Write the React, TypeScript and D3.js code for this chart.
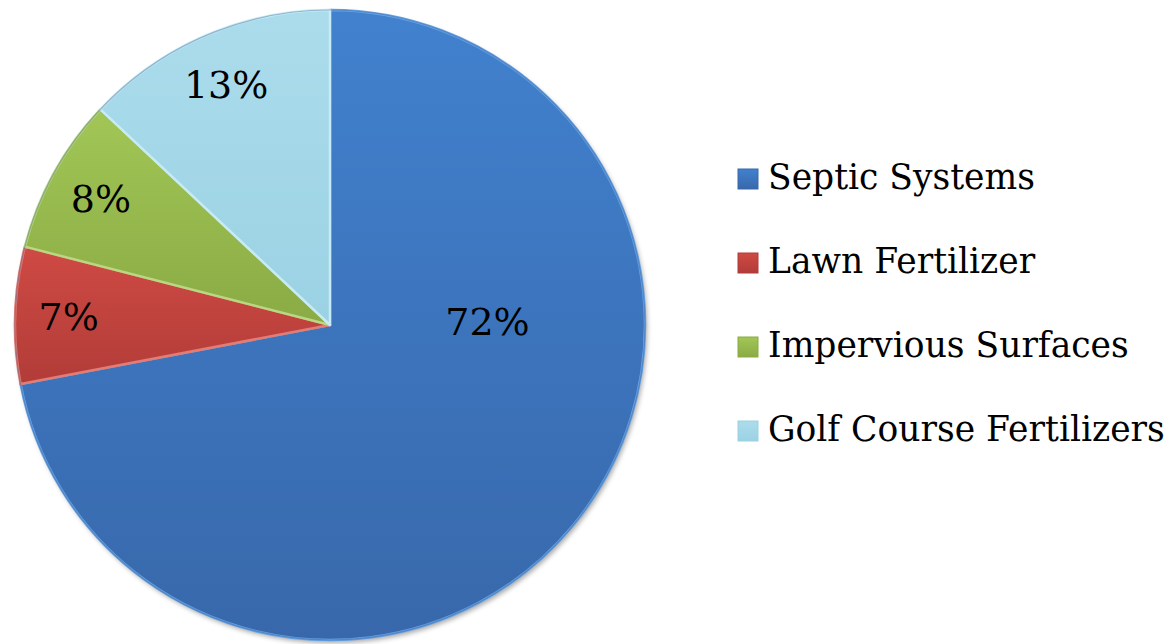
import React from "react";
import * as d3 from "d3";

const categories = ["Septic Systems", "Lawn Fertilizer", "Impervious Surfaces", "Golf Course Fertilizers"];
const values = [72, 7, 8, 13];
const labels = ["72%", "7%", "8%", "13%"];
const colorTop = ["#4181ce", "#cf4a44", "#a2c656", "#abdcec"];
const colorBottom = ["#3868ab", "#b23c38", "#8aab45", "#9bd2e3"];
const edgeColors = ["#68a4e6", "#e27c74", "#bad882", "#c6ebf6"];

const W = 1175, H = 644;
const cx = 330, cy = 325, R = 315;

export default function App() {
  const pie = d3.pie<number>().sort(null).value((d) => d)(values);
  const arc = d3.arc<d3.PieArcDatum<number>>().innerRadius(0).outerRadius(R);
  const font = "DejaVu Serif";
  const labelPos = (p: d3.PieArcDatum<number>) => {
    const mid = (p.startAngle + p.endAngle) / 2;
    const big = p.endAngle - p.startAngle > Math.PI;
    const a = big ? Math.PI / 2 - 0.02 : mid;
    const r = big ? R * 0.5 : R * 0.83;
    return [Math.sin(a) * r, -Math.cos(a) * r];
  };
  return (
    <div style={{ position: "absolute", left: 0, top: 0 }}>
      <svg width={W} height={H} style={{ display: "block", background: "#fff" }}>
        <defs>
          {values.map((_, i) => (
            <linearGradient key={i} id={`g${i}`} x1="0" y1="0" x2="0" y2="1" gradientUnits="objectBoundingBox">
              <stop offset="0" stopColor={colorTop[i]} />
              <stop offset="1" stopColor={colorBottom[i]} />
            </linearGradient>
          ))}
          <filter id="shadow" x="-10%" y="-10%" width="120%" height="120%">
            <feDropShadow dx="2" dy="3" stdDeviation="2.5" floodColor="#000" floodOpacity="0.35" />
          </filter>
        </defs>
        <g transform={`translate(${cx},${cy})`}>
          <circle r={R} fill="#3a6aae" filter="url(#shadow)" />
          {pie.map((p, i) => (
            <path key={i} d={arc(p) || ""} fill={`url(#g${i})`} stroke={edgeColors[i]} strokeWidth={2.5} strokeLinejoin="round" />
          ))}
          <circle r={R} fill="none" stroke="#2c5088" strokeOpacity={0.35} strokeWidth={1.2} />
          {pie.map((p, i) => {
            const [x, y] = labelPos(p);
            return (
              <text key={i} x={x} y={y} dy="0.35em" textAnchor="middle" fontFamily={font} fontSize={38} fill="#000">
                {labels[i]}
              </text>
            );
          })}
        </g>
        <g>
          {categories.map((c, i) => {
            const y = 189 + i * 84;
            return (
              <g key={i}>
                <rect x={738} y={y - 20} width={20} height={20} fill={`url(#g${i})`} stroke={colorBottom[i]} strokeWidth={1} />
                <text x={768} y={y} fontFamily={font} fontSize={34.5} fill="#000">{c}</text>
              </g>
            );
          })}
        </g>
      </svg>
    </div>
  );
}
